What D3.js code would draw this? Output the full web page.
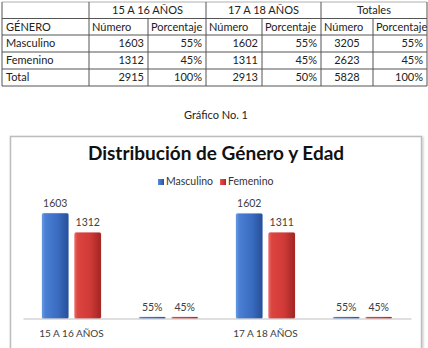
<!DOCTYPE html>
<html>
<head>
<meta charset="utf-8">
<script src="https://cdn.jsdelivr.net/npm/d3@7"></script>
<style>
  body { margin: 0; background: #fff; }
  svg { display: block; font-family: Lato, "Open Sans", sans-serif; }
</style>
</head>
<body>
<div id="page"></div>
<script>
// table data
var tableGroups = ["", "15 A 16 AÑOS", "17 A 18 AÑOS", "Totales"];
var tableHeads = ["GÉNERO", "Número", "Porcentaje", "Número", "Porcentaje", "Número", "Porcentaje"];
var rowNames = ["Masculino", "Femenino", "Total"];
var num1 = [1603, 1312, 2915];
var pct1 = ["55%", "45%", "100%"];
var num2 = [1602, 1311, 2913];
var pct2 = ["55%", "45%", "50%"];
var numT = [3205, 2623, 5828];
var pctT = ["55%", "45%", "100%"];

// chart data
var categories = ["15 A 16 AÑOS", "", "17 A 18 AÑOS", ""];
var series = ["Masculino", "Femenino"];
var masculino = [1603, 0.55, 1602, 0.55];
var femenino = [1312, 0.45, 1311, 0.45];

var W = 428, H = 348;
var svg = d3.select("#page").append("svg")
    .attr("width", W)
    .attr("height", H);

// ---------- table ----------
var colEdges = [2, 89, 148, 206, 262, 321, 373, 427];
var rowEdges = [2, 18.5, 35, 52, 69, 86];
var tfs = 11;

var table = svg.append("g").attr("class", "table");

// horizontal lines
table.selectAll(".hline")
  .data(rowEdges)
  .enter().append("line")
  .attr("x1", colEdges[0]).attr("x2", colEdges[colEdges.length - 1])
  .attr("y1", function (d) { return d; }).attr("y2", function (d) { return d; })
  .attr("stroke", function (d, i) { return i == 0 ? "#b0b0b0" : "#555"; })
  .attr("stroke-width", 1);

// vertical lines (the group row only has the span dividers)
colEdges.forEach(function (x, i) {
  var top = (i == 2 || i == 4 || i == 6) ? rowEdges[1] : rowEdges[0];
  table.append("line")
    .attr("x1", x).attr("x2", x)
    .attr("y1", top).attr("y2", rowEdges[rowEdges.length - 1])
    .attr("stroke", "#555").attr("stroke-width", 1);
});

// group headers
var spans = [[0, 1], [1, 3], [3, 5], [5, 7]];
table.selectAll(".grp")
  .data(tableGroups)
  .enter().append("text")
  .attr("x", function (d, i) { return (colEdges[spans[i][0]] + colEdges[spans[i][1]]) / 2; })
  .attr("y", rowEdges[0] + 12)
  .attr("text-anchor", "middle")
  .style("font-size", tfs + "px")
  .style("fill", "#222")
  .text(function (d) { return d; });

// column headers
table.selectAll(".head")
  .data(tableHeads)
  .enter().append("text")
  .attr("x", function (d, i) { return colEdges[i] + (i == 0 ? 4 : 3); })
  .attr("y", rowEdges[1] + 12)
  .style("font-size", tfs + "px")
  .style("fill", "#222")
  .text(function (d) { return d; });

// body rows
var cols = [num1, pct1, num2, pct2, numT, pctT];
rowNames.forEach(function (name, r) {
  var y = rowEdges[r + 2] + 12;
  table.append("text")
    .attr("x", colEdges[0] + 4).attr("y", y)
    .style("font-size", tfs + "px").style("fill", "#222")
    .text(name);
  cols.forEach(function (col, c) {
    var centered = (c == 4);
    table.append("text")
      .attr("x", centered ? (colEdges[c + 1] + colEdges[c + 2]) / 2 : colEdges[c + 2] - 4)
      .attr("y", y)
      .attr("text-anchor", centered ? "middle" : "end")
      .style("font-size", tfs + "px").style("fill", "#222")
      .text(col[r]);
  });
});

// caption
svg.append("text")
  .attr("x", 216).attr("y", 119)
  .attr("text-anchor", "middle")
  .style("font-size", "11px").style("fill", "#222")
  .text("Gráfico No. 1");

// ---------- chart ----------
var defs = svg.append("defs");
defs.append("filter").attr("id", "shadow")
  .append("feDropShadow")
  .attr("dx", 1).attr("dy", 1).attr("stdDeviation", 1)
  .attr("flood-color", "#000").attr("flood-opacity", 0.25);

function gradient(id, stops) {
  var g = defs.append("linearGradient").attr("id", id)
    .attr("x1", "0%").attr("x2", "100%").attr("y1", "0%").attr("y2", "0%");
  stops.forEach(function (s) {
    g.append("stop").attr("offset", s[0]).attr("stop-color", s[1]);
  });
}
gradient("gBlue", [["0%", "#6b9ee6"], ["12%", "#4a7fd4"], ["60%", "#3a6cc0"], ["100%", "#264f98"]]);
gradient("gRed", [["0%", "#ec6a66"], ["12%", "#dc4440"], ["60%", "#cf3a37"], ["100%", "#a02624"]]);
var fills = { "Masculino": "url(#gBlue)", "Femenino": "url(#gRed)" };
var solid = { "Masculino": "#3d70c4", "Femenino": "#d33c39" };

svg.append("rect")
  .attr("x", 10.5).attr("y", 136.5)
  .attr("width", 411).attr("height", 230)
  .attr("fill", "#fff")
  .attr("stroke", "#bdbdbd").attr("stroke-width", 1.5)
  .attr("filter", "url(#shadow)");

svg.append("text")
  .attr("x", 216).attr("y", 160)
  .attr("text-anchor", "middle")
  .style("font-size", "19px").style("font-weight", "bold").style("fill", "#111")
  .text("Distribución de Género y Edad");

// legend
var legend = svg.append("g").attr("transform", "translate(158,185)");
var lx = 0;
series.forEach(function (s) {
  legend.append("rect")
    .attr("x", lx).attr("y", -6).attr("width", 6).attr("height", 6)
    .attr("fill", fills[s]);
  var t = legend.append("text")
    .attr("x", lx + 8).attr("y", 0)
    .style("font-size", "10.5px").style("fill", "#333")
    .text(s);
  lx += 8 + t.node().getComputedTextLength() + 7;
});

var x0 = d3.scaleBand()
  .domain(d3.range(categories.length))
  .range([23, 411]);

var x1 = d3.scaleBand()
  .domain(series)
  .range([19, 78])
  .paddingInner(0.185);

var y = d3.scaleLinear()
  .domain([0, 1800])
  .range([318.5, 200.4]);

var rows = categories.map(function (c, i) {
  return { cat: i, isPct: i % 2 == 1, vals: [
    { s: "Masculino", v: masculino[i] },
    { s: "Femenino", v: femenino[i] }] };
});

var grp = svg.selectAll(".grp")
  .data(rows)
  .enter().append("g")
  .attr("class", "grp")
  .attr("transform", function (d) { return "translate(" + x0(d.cat) + ",0)"; });

grp.selectAll("rect")
  .data(function (d) { return d.vals; })
  .enter().append("rect")
  .attr("x", function (d) { return x1(d.s); })
  .attr("width", x1.bandwidth())
  .attr("y", function (d) { return Math.min(y(d.v), y(0) - 1.5); })
  .attr("height", function (d) { return Math.max(y(0) - y(d.v), 1.5); })
  .attr("rx", 1.5)
  .attr("fill", function (d) { return fills[d.s]; })
  .attr("stroke", function (d) { return solid[d.s]; })
  .attr("stroke-opacity", 0.4)
  .attr("stroke-width", 0.5);

grp.each(function (row) {
  d3.select(this).selectAll(".lbl")
    .data(row.vals)
    .enter().append("text")
    .attr("x", function (d) { return x1(d.s) + x1.bandwidth() / 2; })
    .attr("y", function (d) { return Math.min(y(d.v), y(0) - 1.5) - 6; })
    .attr("text-anchor", "middle")
    .style("font-size", "10.5px").style("fill", "#404040")
    .text(function (d) { return row.isPct ? d3.format(".0%")(d.v) : d.v; });
});

// axis
var xAxis = d3.axisBottom(x0)
  .tickSize(0)
  .tickPadding(11)
  .tickFormat(function (i) { return categories[i]; });

var ax = svg.append("g")
  .attr("transform", "translate(0," + y(0) + ")")
  .call(xAxis);
ax.select(".domain").attr("stroke", "#bfbfbf");
ax.selectAll("text")
  .style("font-family", "Lato, sans-serif")
  .style("font-size", "10px").style("fill", "#404040");
</script>
</body>
</html>
